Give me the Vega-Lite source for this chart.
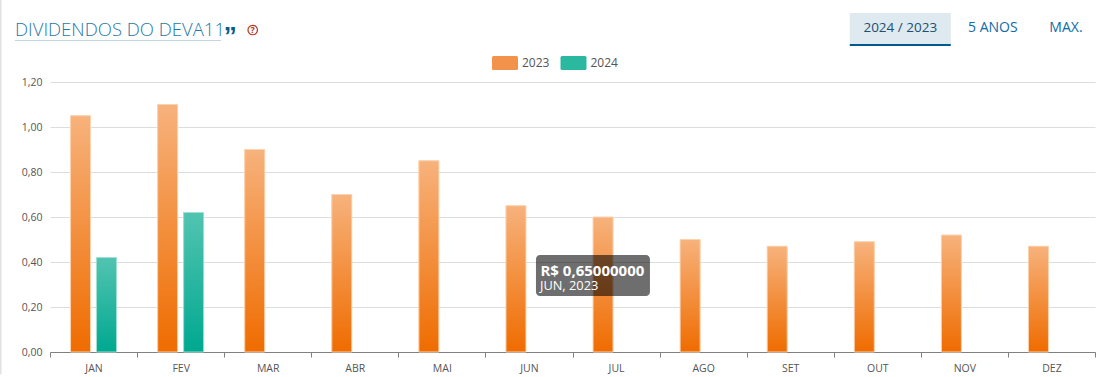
{
"$schema":"https://vega.github.io/schema/vega-lite/v6.json",
"width":1045,"height":270,"autosize":"none",
"padding":{"left":50,"top":82,"right":12,"bottom":25},
"background":"white",
"config":{"view":{"stroke":null},"font":"Open Sans"},
"title":{"text":"DIVIDENDOS DO DEVA11","anchor":"start","frame":"group","dx":-35,"offset":-58,"baseline":"alphabetic","font":"Open Sans","fontWeight":300,"fontSize":18.5,"color":"#1f78a8"},
"data":{"values":[
{"month":"JAN","year":"2023","v":1.05},{"month":"FEV","year":"2023","v":1.10},{"month":"MAR","year":"2023","v":0.90},{"month":"ABR","year":"2023","v":0.70},{"month":"MAI","year":"2023","v":0.85},{"month":"JUN","year":"2023","v":0.65},{"month":"JUL","year":"2023","v":0.60},{"month":"AGO","year":"2023","v":0.50},{"month":"SET","year":"2023","v":0.47},{"month":"OUT","year":"2023","v":0.49},{"month":"NOV","year":"2023","v":0.52},{"month":"DEZ","year":"2023","v":0.47},
{"month":"JAN","year":"2024","v":0.42},{"month":"FEV","year":"2024","v":0.62}
]},
"encoding":{
"x":{"field":"month","type":"nominal","title":null,"scale":{"domain":["JAN","FEV","MAR","ABR","MAI","JUN","JUL","AGO","SET","OUT","NOV","DEZ"],"paddingInner":0,"paddingOuter":0},
"axis":{"labelAngle":0,"labelFontSize":10.5,"labelColor":"#555555","labelPadding":6,"tickBand":"extent","tickSize":5,"tickColor":"#808080","domainColor":"#808080","grid":false}},
"y":{"field":"v","type":"quantitative","title":null,"scale":{"domain":[0,1.2],"nice":false},
"axis":{"values":[0,0.2,0.4,0.6,0.8,1.0,1.2],"labelExpr":"replace(format(datum.value,'.2f'),'.',',')","labelFontSize":10.5,"labelColor":"#555555","labelPadding":8,"ticks":false,"domain":false,"grid":true,"gridColor":"#dddddd"}}
},
"layer":[
{"mark":{"type":"bar","width":20},
"encoding":{
"xOffset":{"field":"year","type":"nominal","scale":{"domain":["2023","2024"],"paddingInner":0.23,"paddingOuter":0.79}},
"fill":{"field":"year","type":"nominal","scale":{"domain":["2023","2024"],"range":["#f3924a","#2ab8a1"]},
"legend":{"orient":"none","legendX":445,"legendY":-29,"direction":"horizontal","title":null,"labelColor":"#555555","labelFontSize":12,"labelOffset":7,"columnPadding":10.5,"symbolSize":400,"symbolOpacity":1,"symbolType":"M-1.15,-0.7H1.15Q1.3,-0.7 1.3,-0.55V0.55Q1.3,0.7 1.15,0.7H-1.15Q-1.3,0.7 -1.3,0.55V-0.55Q-1.3,-0.7 -1.15,-0.7Z","symbolStrokeWidth":0}}
}},
{"mark":{"type":"bar","width":20,"strokeWidth":1},
"encoding":{
"xOffset":{"field":"year","type":"nominal","scale":{"domain":["2023","2024"],"paddingInner":0.23,"paddingOuter":0.79}},
"stroke":{"condition":{"test":"datum.year==='2023'","value":"#fbd3b0"},"value":"#9fe0d3"},
"fill":{"condition":{"test":"datum.year==='2023'","value":{"gradient":"linear","x1":0,"y1":0,"x2":0,"y2":1,"stops":[{"offset":0,"color":"#f7b27c"},{"offset":1,"color":"#ef6c00"}]}},"value":{"gradient":"linear","x1":0,"y1":0,"x2":0,"y2":1,"stops":[{"offset":0,"color":"#52c4b1"},{"offset":1,"color":"#00a890"}]}}
}},
{"data":{"values":[{"month":"JUN","v":0.431,"v2":0.249}]},
"mark":{"type":"bar","width":114,"xOffset":64,"cornerRadius":4,"color":"#000000","opacity":0.57},
"encoding":{"y2":{"field":"v2"}}},
{"data":{"values":[{"month":"JUN","v":0.36,"t":"R$ 0,65000000"}]},
"mark":{"type":"text","align":"left","baseline":"middle","dx":11.5,"fontSize":15,"fontWeight":"bold","color":"#ffffff"},
"encoding":{"text":{"field":"t"}}},
{"data":{"values":[{"month":"JUN","v":0.293,"t":"JUN, 2023"}]},
"mark":{"type":"text","align":"left","baseline":"middle","dx":11,"fontSize":12.8,"color":"#ffffff"},
"encoding":{"text":{"field":"t"}}},
{"data":{"values":[{"month":"JAN","v":1.387,"v2":1.383}]},
"mark":{"type":"bar","width":206,"xOffset":24.5,"color":"#a9cbdc"},
"encoding":{"y2":{"field":"v2"}}},
{"data":{"values":[{"month":"JAN","v":1.58,"v2":-0.1}]},
"mark":{"type":"bar","width":2,"xOffset":-93,"color":"#e2e2e2"},
"encoding":{"y2":{"field":"v2"}}},
{"data":{"values":[{"month":"MAR","v":1.4,"t":"”"}]},
"mark":{"type":"text","align":"left","baseline":"alphabetic","dx":-44,"dy":8,"fontSize":26,"fontWeight":"bold","font":"Liberation Sans","color":"#0a5a8a"},
"encoding":{"text":{"field":"t"}}},
{"data":{"values":[{"month":"MAR","v":1.431}]},
"mark":{"type":"point","xOffset":-15,"size":90,"stroke":"#b5341a","strokeWidth":1.2,"filled":false,"opacity":1},
"encoding":{}},
{"data":{"values":[{"month":"MAR","v":1.431,"t":"?"}]},
"mark":{"type":"text","align":"center","baseline":"middle","dx":-15,"fontSize":9,"fontWeight":"bold","color":"#b5341a"},
"encoding":{"text":{"field":"t"}}},
{"data":{"values":[{"month":"OUT","v":1.507,"v2":1.369}]},
"mark":{"type":"bar","width":101,"xOffset":23,"color":"#dfe9f0"},
"encoding":{"y2":{"field":"v2"}}},
{"data":{"values":[{"month":"OUT","v":1.369,"v2":1.36}]},
"mark":{"type":"bar","width":101,"xOffset":23,"color":"#005a8c"},
"encoding":{"y2":{"field":"v2"}}},
{"data":{"values":[{"month":"OUT","v":1.44,"t":"2024 / 2023"}]},
"mark":{"type":"text","align":"center","baseline":"middle","dx":23,"fontSize":13.5,"color":"#1c4f72"},
"encoding":{"text":{"field":"t"}}},
{"data":{"values":[{"month":"NOV","v":1.44,"t":"5 ANOS"}]},
"mark":{"type":"text","align":"center","baseline":"middle","dx":28.5,"fontSize":14,"color":"#0f6aa8"},
"encoding":{"text":{"field":"t"}}},
{"data":{"values":[{"month":"DEZ","v":1.44,"t":"MAX."}]},
"mark":{"type":"text","align":"center","baseline":"middle","dx":14.5,"fontSize":14,"color":"#0f6aa8"},
"encoding":{"text":{"field":"t"}}}
]
}
